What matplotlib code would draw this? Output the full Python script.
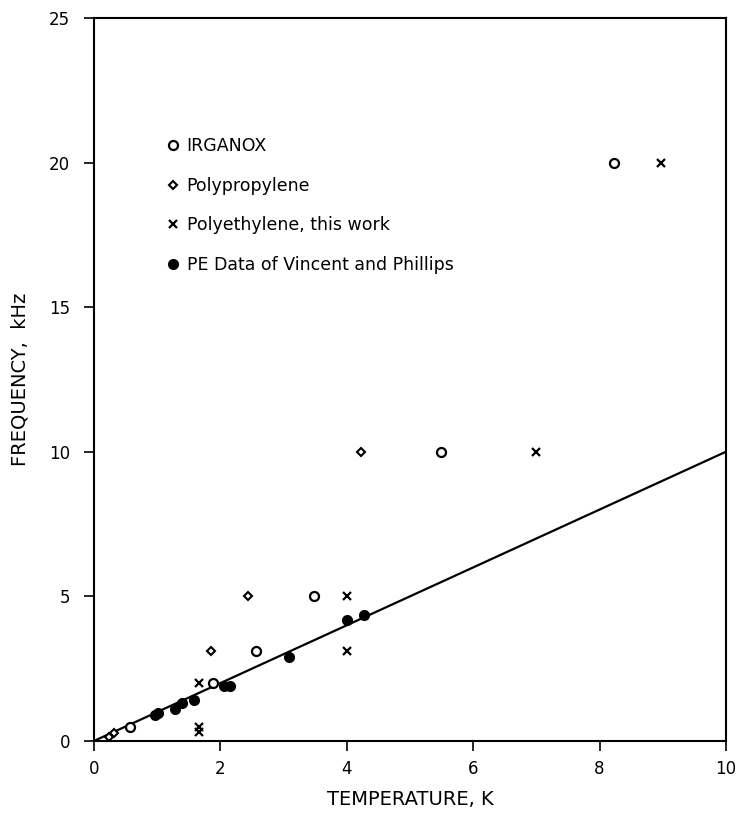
import numpy as np
import matplotlib.pyplot as plt

# IRGANOX (open circles)
irg_T = np.array([0.57, 1.88, 2.57, 3.48, 5.49, 8.23])
irg_f = np.array([0.47, 2.0, 3.1, 5.0, 10.0, 20.0])

# Polypropylene (open diamonds)
pp_T = np.array([0.24, 0.31, 1.85, 2.44, 4.22])
pp_f = np.array([0.14, 0.28, 3.1, 5.0, 10.0])

# Polyethylene, this work (crosses)
pe_T = np.array([1.66, 1.66, 1.66, 4.0, 4.0, 7.0, 8.97])
pe_f = np.array([0.32, 0.5, 2.0, 3.1, 5.0, 10.0, 20.0])

# PE data of Vincent and Phillips (filled circles)
vp_T = np.array([0.97, 1.02, 1.28, 1.39, 1.58, 2.05, 2.15, 3.09, 4.0, 4.27])
vp_f = np.array([0.9, 0.96, 1.12, 1.3, 1.42, 1.9, 1.9, 2.92, 4.19, 4.36])

line_T = np.array([0, 10])
line_f = np.array([0, 10])

fig = plt.figure(figsize=(7.37, 8.13), dpi=100)
ax = fig.add_axes([0.1275, 0.0886, 0.8575, 0.8894])

ax.plot(line_T, line_f, color="black", lw=1.6)
ax.plot(irg_T, irg_f, "o", mfc="white", mec="black", mew=1.6, ms=6.5, ls="none", label="IRGANOX")
ax.plot(pp_T, pp_f, "D", mfc="white", mec="black", mew=1.5, ms=4.5, ls="none", label="Polypropylene")
ax.plot(pe_T, pe_f, "x", color="black", mew=1.6, ms=6, ls="none", label="Polyethylene, this work")
ax.plot(vp_T, vp_f, "o", color="black", ms=7, ls="none", label="PE Data of Vincent and Phillips")

ax.set_xlim(0, 10)
ax.set_ylim(0, 25)
ax.set_xticks([0, 2, 4, 6, 8, 10])
ax.set_yticks([0, 5, 10, 15, 20, 25])
ax.tick_params(direction="out", length=7, width=1.2, labelsize=12)
ax.tick_params(axis="y", pad=10)
ax.tick_params(axis="x", pad=7)
for s in ax.spines.values():
    s.set_linewidth(1.5)

ax.set_xlabel("TEMPERATURE, K", fontsize=14, labelpad=8)
ax.set_ylabel("FREQUENCY,  kHz", fontsize=14, labelpad=14)

ax.legend(loc="upper left", bbox_to_anchor=(0.1, 0.845), frameon=False, fontsize=12.5,
          handletextpad=0.3, labelspacing=1.25, handlelength=1.0, borderaxespad=0)

fig.savefig("out.png", dpi=100)
